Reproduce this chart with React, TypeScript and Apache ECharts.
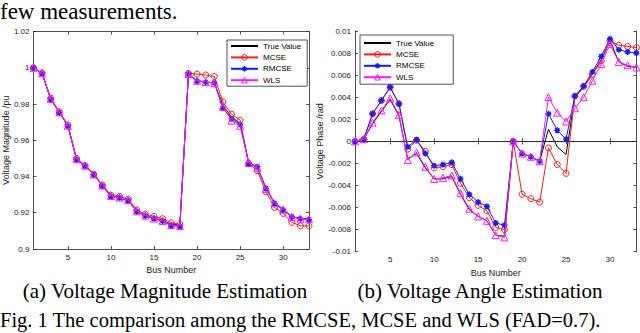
import React, { useEffect, useRef } from "react";
import * as echarts from "echarts";

const busNumbers = [1, 2, 3, 4, 5, 6, 7, 8, 9, 10, 11, 12, 13, 14, 15, 16, 17, 18, 19, 20, 21, 22, 23, 24, 25, 26, 27, 28, 29, 30, 31, 32, 33];
const xTickValues = [5, 10, 15, 20, 25, 30];
const seriesNames = ["True Value", "MCSE", "RMCSE", "WLS"];

const magTrue = [1.0, 0.997, 0.9829, 0.9755, 0.9681, 0.9497, 0.9462, 0.9413, 0.9351, 0.9292, 0.9284, 0.9269, 0.9208, 0.9185, 0.9171, 0.9157, 0.9137, 0.9131, 0.9965, 0.9929, 0.9922, 0.9916, 0.9794, 0.9727, 0.9694, 0.9477, 0.9452, 0.9337, 0.9255, 0.922, 0.9178, 0.9169, 0.9166];
const magMCSE = [1.0, 0.9972, 0.9832, 0.9757, 0.9684, 0.95, 0.946, 0.9413, 0.9353, 0.9297, 0.929, 0.9275, 0.9215, 0.9192, 0.918, 0.9167, 0.9145, 0.9137, 0.9969, 0.9965, 0.996, 0.9952, 0.9812, 0.9744, 0.9711, 0.9472, 0.9432, 0.9316, 0.9229, 0.9196, 0.9147, 0.9128, 0.9127];
const magRMCSE = [1.0, 0.9968, 0.9826, 0.9752, 0.9678, 0.9493, 0.9458, 0.941, 0.9348, 0.929, 0.9282, 0.9268, 0.9206, 0.9183, 0.9167, 0.9153, 0.913, 0.9123, 0.9965, 0.9926, 0.992, 0.9917, 0.9776, 0.9718, 0.9687, 0.947, 0.9454, 0.9334, 0.9251, 0.9215, 0.9178, 0.9167, 0.9162];
const magWLS = [1.0, 0.9969, 0.9828, 0.9754, 0.968, 0.9495, 0.946, 0.9411, 0.935, 0.9292, 0.9284, 0.927, 0.9208, 0.9184, 0.9168, 0.9155, 0.9132, 0.9126, 0.9966, 0.9928, 0.9921, 0.9915, 0.9785, 0.9708, 0.968, 0.9474, 0.9448, 0.9332, 0.9252, 0.9218, 0.9176, 0.9167, 0.9164];

const angTrue = [0, 0.0002, 0.0016, 0.0027, 0.0038, 0.0023, -0.0016, -0.0011, -0.0024, -0.0034, -0.0034, -0.0032, -0.0048, -0.0062, -0.0068, -0.0072, -0.0085, -0.0086, 0, -0.0011, -0.0014, -0.0018, 0.0011, -0.0005, -0.0012, 0.004, 0.0049, 0.0061, 0.0074, 0.0091, 0.0072, 0.0068, 0.0067];
const angMCSE = [0, 0.0002, 0.0025, 0.0037, 0.0049, 0.0034, -0.0007, 0.0001, -0.0009, -0.0024, -0.0023, -0.0021, -0.0038, -0.0051, -0.0058, -0.0063, -0.0078, -0.008, 0, -0.0048, -0.0052, -0.0055, -0.0006, -0.0021, -0.0029, 0.0041, 0.005, 0.0061, 0.0073, 0.0091, 0.0087, 0.0086, 0.0085];
const angRMCSE = [0, 0.0002, 0.0025, 0.0037, 0.0049, 0.0034, -0.0005, 0.00015, -0.0011, -0.0022, -0.0021, -0.0019, -0.0034, -0.0048, -0.0055, -0.0059, -0.0074, -0.0076, 0, -0.0011, -0.0014, -0.0018, 0.0025, 0.001, 0.0002, 0.0041, 0.005, 0.0063, 0.0077, 0.0093, 0.0083, 0.0081, 0.008];
const angWLS = [0, 0.0002, 0.0017, 0.0028, 0.0039, 0.0024, -0.0017, -0.001, -0.0023, -0.0034, -0.0033, -0.0031, -0.0047, -0.0061, -0.0068, -0.0072, -0.0085, -0.0087, 0, -0.0011, -0.0014, -0.0018, 0.004, 0.0026, 0.0018, 0.003, 0.004, 0.0055, 0.007, 0.0088, 0.0072, 0.0069, 0.0067];

const SANS = "'Liberation Sans', Arial, sans-serif";
const SERIF = "'Liberation Serif', 'Times New Roman', serif";
const AXIS_COLOR = "#262626";
const ASTERISK = "path://M5,0L5,10M0,5L10,5M1.5,1.5L8.5,8.5M1.5,8.5L8.5,1.5";
const CLEAR = "rgba(0,0,0,0)";

const fmt = (v: number) => String(parseFloat(v.toFixed(4)));

function xAxes(gridIndex: number) {
  const common = {
    type: "value",
    gridIndex,
    min: 1,
    max: 33,
    splitLine: { show: false },
    axisLine: { show: true, lineStyle: { color: AXIS_COLOR, width: 0.8 } },
    axisTick: { show: true, inside: true, length: 3, customValues: xTickValues, lineStyle: { color: AXIS_COLOR, width: 0.8 } },
  };
  return [
    {
      ...common,
      position: "bottom",
      name: "Bus Number",
      nameLocation: "middle",
      nameGap: 15,
      nameTextStyle: { fontFamily: SANS, fontSize: 9, color: "#222" },
      axisLabel: { show: true, customValues: xTickValues, margin: 4, fontFamily: SANS, fontSize: 8, color: "#222" },
    },
    { ...common, position: "top", axisLabel: { show: false } },
  ];
}

function yAxes(gridIndex: number, min: number, max: number, interval: number, name: string, nameGap: number) {
  const common = {
    type: "value",
    gridIndex,
    min,
    max,
    interval,
    splitLine: { show: false },
    axisLine: { show: true, lineStyle: { color: AXIS_COLOR, width: 0.8 } },
    axisTick: { show: true, inside: true, length: 3, lineStyle: { color: AXIS_COLOR, width: 0.8 } },
  };
  return [
    {
      ...common,
      position: "left",
      name,
      nameLocation: "middle",
      nameGap,
      nameTextStyle: { fontFamily: SANS, fontSize: 9, color: "#222" },
      axisLabel: { show: true, margin: 4, fontFamily: SANS, fontSize: 8, color: "#222", formatter: (v: number) => fmt(v) },
    },
    { ...common, position: "right", axisLabel: { show: false } },
  ];
}

const styles = [
  { color: "#000000", symbol: "none", size: 0, z: 2 },
  { color: "#ff1a1a", symbol: "circle", size: 6, z: 3 },
  { color: "#1a1aff", symbol: ASTERISK, size: 6, z: 4 },
  { color: "#ff1aff", symbol: "triangle", size: 7, z: 5 },
];

function makeSeries(values: number[][], xIdx: number, yIdx: number) {
  return values.map((vals, i) => {
    const s = styles[i];
    return {
      type: "line",
      name: seriesNames[i],
      xAxisIndex: xIdx,
      yAxisIndex: yIdx,
      data: busNumbers.map((b, k) => [b, vals[k]]),
      symbol: s.symbol,
      symbolSize: s.size,
      showSymbol: s.symbol !== "none",
      z: s.z,
      color: s.color,
      lineStyle: { color: s.color, width: 1 },
      itemStyle: { color: CLEAR, borderColor: s.color, borderWidth: i === 2 ? 1.4 : 1 },
      emphasis: { disabled: true },
    };
  });
}

function legend(left: number, top: number, padding: number[]) {
  return {
    show: true,
    orient: "vertical",
    left,
    top,
    padding,
    itemWidth: 27,
    itemHeight: 7,
    itemGap: 3.4,
    backgroundColor: "#ffffff",
    borderColor: AXIS_COLOR,
    borderWidth: 0.8,
    borderRadius: 0,
    selectedMode: false,
    itemStyle: { color: CLEAR, borderWidth: 1 },
    textStyle: { fontFamily: SANS, fontSize: 8, color: "#000", lineHeight: 7 },
    data: seriesNames.map((n, i) =>
      i === 0
        ? { name: n, itemStyle: { color: CLEAR, borderColor: CLEAR, borderWidth: 0 } }
        : { name: n, itemStyle: { color: CLEAR, borderColor: styles[i].color, borderWidth: i === 2 ? 1.3 : 1 } }
    ),
  };
}

export default function App() {
  const ref = useRef<HTMLDivElement>(null);
  useEffect(() => {
    if (!ref.current) return;
    const chart = echarts.init(ref.current, undefined, { renderer: "svg" });
    const option = {
      animation: false,
      backgroundColor: "#ffffff",
      grid: [
        { left: 33, right: 331, top: 31.5, bottom: 84 },
        { left: 355, right: 3.6, top: 31, bottom: 81.3 },
      ],
      xAxis: [...xAxes(0), ...xAxes(1)],
      yAxis: [
        ...yAxes(0, 0.9, 1.02, 0.02, "Voltage Magnitude /pu", 23),
        ...yAxes(1, -0.01, 0.01, 0.002, "Voltage Phase /rad", 28),
      ],
      legend: [
        { ...legend(227, 40, [2, 6, 2, 3]), seriesIndex: [0, 1, 2, 3] },
        { ...legend(360, 35, [4, 19, 3, 3]), seriesIndex: [4, 5, 6, 7] },
      ],
      series: [
        ...makeSeries([magTrue, magMCSE, magRMCSE, magWLS], 0, 0),
        ...makeSeries([angTrue, angMCSE, angRMCSE, angWLS], 2, 2),
      ],
      graphic: [
        { type: "text", left: 0, top: 0, style: { text: "few measurements.", font: `23px ${SERIF}`, fill: "#000" } },
        { type: "text", x: 165, y: 291, style: { text: "(a) Voltage Magnitude Estimation", font: `21px ${SERIF}`, fill: "#000", align: "center", verticalAlign: "middle" } },
        { type: "text", x: 480, y: 291, style: { text: "(b) Voltage Angle Estimation", font: `21px ${SERIF}`, fill: "#000", align: "center", verticalAlign: "middle" } },
        { type: "text", x: 0, y: 320, style: { text: "Fig. 1 The comparison among the RMCSE, MCSE and WLS (FAD=0.7).", font: `20.5px ${SERIF}`, fill: "#000", align: "left", verticalAlign: "middle" } },
      ],
    };
    chart.setOption(option as any);
    return () => chart.dispose();
  }, []);
  return <div ref={ref} style={{ position: "fixed", left: 0, top: 0, width: 640, height: 333, background: "#fff" }} />;
}
